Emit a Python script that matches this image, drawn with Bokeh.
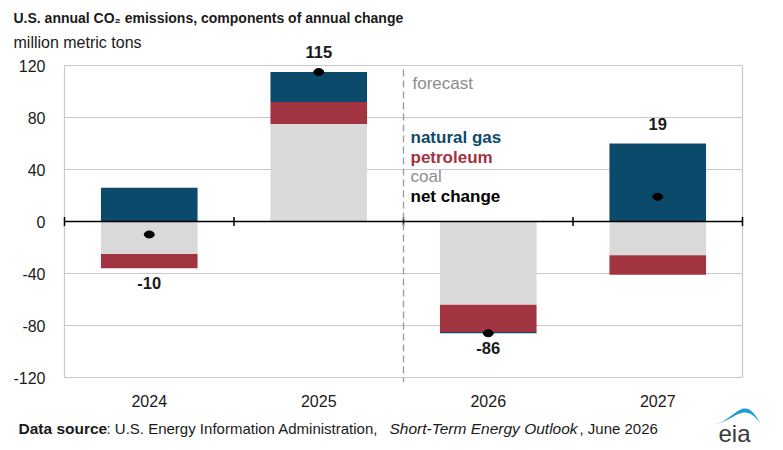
import numpy as np
from bokeh.plotting import figure
from bokeh.models import Range1d, FixedTicker
from bokeh.core.properties import value
from bokeh.embed import file_html
from bokeh.resources import INLINE

# ---------------- data ----------------
categories = ["2024", "2025", "2026", "2027"]
coal = [-25, 75, -64, -26]
petroleum = [-11, 17, -21, -15]
natural_gas = [26, 23, -1, 60]
net_change = [-10, 115, -86, 19]
y_ticks = [-120, -80, -40, 0, 40, 80, 120]
forecast_start = 2  # boundary between 2025 and 2026

# ---------------- layout (canvas pixels) ----------------
W, H = 783, 450
FL, FR, FT, FBt = 64, 742, 65, 377          # plot box edges in canvas px
PXX = (FR - FL) / len(categories)            # px per category
PXY = (FBt - FT) / (y_ticks[-1] - y_ticks[0])
ZERO = FT + y_ticks[-1] * PXY

def dx(px):
    return (px - FL) / PXX

def dy(py):
    return (ZERO - py) / PXY

FONT = "Liberation Sans, Arial, sans-serif"
C_GAS = "#0c4a6c"
C_PET = "#a23340"
C_COAL = "#d9d9d9"
C_TXT = "#1a1a1a"
C_GRID = "#c8c8c8"

p = figure(width=W, height=H, output_backend="svg", toolbar_location=None,
           x_range=Range1d(dx(0), dx(W)), y_range=Range1d(dy(H), dy(0)),
           min_border=0)
p.title.visible = False
p.outline_line_color = None
p.background_fill_color = "white"
p.border_fill_color = "white"

xc = [i + 0.5 for i in range(len(categories))]
p.xaxis.ticker = FixedTicker(ticks=xc)
p.xaxis.major_label_overrides = {x: c for x, c in zip(xc, categories)}
p.xaxis.fixed_location = y_ticks[0]
p.yaxis.ticker = FixedTicker(ticks=y_ticks)
p.yaxis.major_label_overrides = {v: str(v) for v in y_ticks}
p.yaxis.fixed_location = 0
for ax in (p.xaxis, p.yaxis):
    ax.axis_line_color = None
    ax.major_tick_line_color = None
    ax.minor_tick_line_color = None
    ax.major_label_text_font = FONT
    ax.major_label_text_font_size = "16px"
    ax.major_label_text_color = C_TXT
p.xaxis.major_label_standoff = 11
p.yaxis.major_label_standoff = 13
p.xgrid.grid_line_color = None
p.ygrid.grid_line_color = C_GRID
p.ygrid.grid_line_width = 1.2
p.ygrid.cross_bounds = (0, len(categories))

# plot box side borders
p.segment(x0=[0, len(categories)], y0=[y_ticks[0]] * 2, x1=[0, len(categories)], y1=[y_ticks[-1]] * 2,
          line_color=C_GRID, line_width=1.2)

# ---------------- stacked bars ----------------
series = [("coal", coal, C_COAL), ("petroleum", petroleum, C_PET), ("natural gas", natural_gas, C_GAS)]
pos_base = [0.0] * len(categories)
neg_base = [0.0] * len(categories)
for name, vals, col in series:
    bottoms, tops = [], []
    for i, v in enumerate(vals):
        if v >= 0:
            bottoms.append(pos_base[i]); tops.append(pos_base[i] + v); pos_base[i] += v
        else:
            tops.append(neg_base[i]); bottoms.append(neg_base[i] + v); neg_base[i] += v
    p.vbar(x=xc, width=0.57, bottom=bottoms, top=tops, fill_color=col, line_color=None)

# zero line with ticks at category boundaries
bounds = list(range(len(categories) + 1))
p.segment(x0=[0], y0=[0], x1=[len(categories)], y1=[0], line_color="black", line_width=1.5)
p.segment(x0=bounds, y0=[-4.5 / PXY] * len(bounds), x1=bounds, y1=[4.5 / PXY] * len(bounds),
          line_color="black", line_width=1.5)

# forecast divider
p.segment(x0=[forecast_start], y0=[dy(69)], x1=[forecast_start], y1=[dy(382)],
          line_color="#9a9a9a", line_dash="7 4", line_width=1.3)

# net change markers
p.ellipse(x=xc, y=net_change, width=10, height=7, width_units="screen", height_units="screen",
          fill_color="black", line_color="black")

# net change value labels
lab_y = [pos_base[i] + 20 / PXY if v >= 0 else neg_base[i] - 15 / PXY for i, v in enumerate(net_change)]
p.text(x=xc, y=lab_y, text=[str(v) for v in net_change], text_align="center", text_baseline="middle",
       text_font=value(FONT), text_font_size="16.5px", text_font_style="bold", text_color=C_TXT)

def add_text(px, py, s, size, style="normal", color=C_TXT, align="left"):
    p.text(x=[dx(px)], y=[dy(py)], text=[s], text_align=align, text_baseline="middle",
           text_font=value(FONT), text_font_size=size, text_font_style=style, text_color=color)

# forecast label and legend
add_text(412, 83, "forecast", "17px", color="#8c8c8c")
legend_items = [("natural gas", C_GAS, "bold"), ("petroleum", C_PET, "bold"),
                ("coal", "#8c8c8c", "normal"), ("net change", "black", "bold")]
for k, (t, col, st) in enumerate(legend_items):
    add_text(410, 137 + k * 19.7, t, "17px", st, col)

# ---------------- titles / footer ----------------
add_text(13, 17, "U.S. annual CO\u2082 emissions, components of annual change", "14px", "bold")
add_text(13, 42, "million  metric tons", "16px")
add_text(18, 428, "Data source", "15.5px", "bold")
add_text(106, 428, ": U.S. Energy Information Administration,", "15px")
add_text(389, 428, "Short-Term Energy Outlook", "15.5px", "italic")
add_text(579, 428, ", June 2026", "15px")

# eia logo
add_text(718, 433, "eia", "24px", color="#3a3a3a")
t = np.linspace(0, 1, 40)
s = t ** 1.6
arc_x = 716 + 44 * t
outer_y = 423 - 15 * np.sin(np.pi * s)
inner_y = 423 - 11 * np.sin(np.pi * s)
sx = np.concatenate([arc_x, arc_x[::-1]])
sy = np.concatenate([outer_y, inner_y[::-1]])
p.patch(x=[dx(v) for v in sx], y=[dy(v) for v in sy], fill_color="#1e9cd8", line_color=None)

open("out.html", "w").write(file_html(p, INLINE))
